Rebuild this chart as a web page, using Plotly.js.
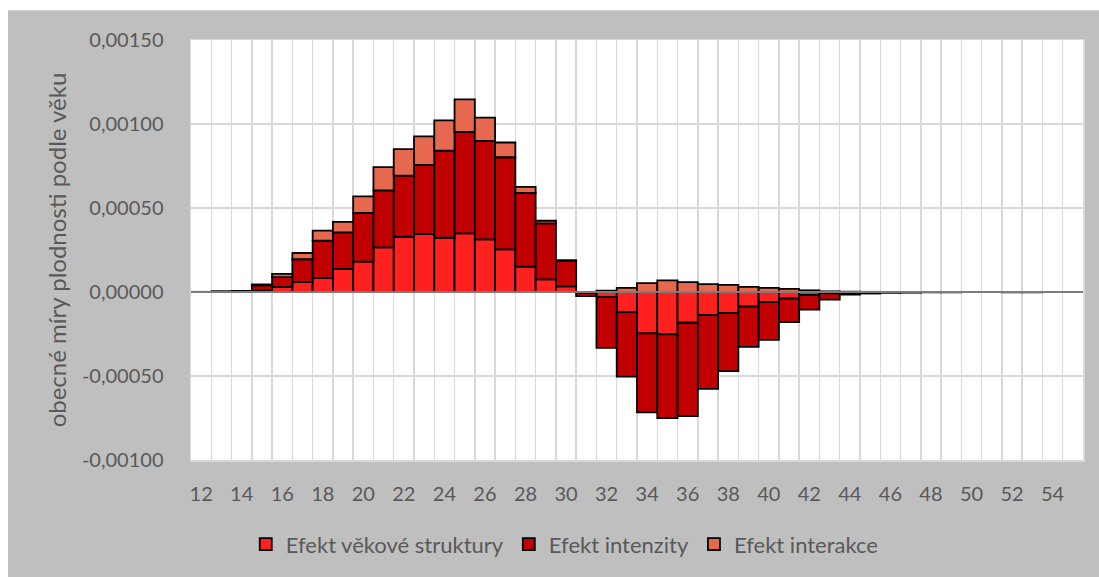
<!DOCTYPE html>
<html>
<head>
<meta charset="utf-8">
<script src="https://cdn.plot.ly/plotly-3.0.1.min.js"></script>
<style>html,body{margin:0;padding:0;background:#fff;}#chart{width:1099px;height:577px;}</style>
</head>
<body>
<div id="chart"></div>
<script>
// Ages (categories)
const ages = [12,13,14,15,16,17,18,19,20,21,22,23,24,25,26,27,28,29,30,31,32,33,34,35,36,37,38,39,40,41,42,43,44,45,46,47,48,49,50,51,52,53,54,55];

// Efekt věkové struktury
const efektStruktury = [0,0.000001,0.000002,0.000008,0.00003,0.00006,0.000083,0.000138,0.000181,0.000266,0.000329,0.000345,0.000323,0.000349,0.000313,0.000254,0.000151,0.000075,0.000034,-0.000005,-0.00003,-0.00012,-0.000246,-0.000252,-0.000183,-0.000138,-0.000124,-0.000087,-0.00006,-0.00004,-0.000018,-0.000008,-0.000003,-0.000002,-0.000001,-0.000001,0,0,0,0,0,0,0,0];

// Efekt intenzity
const efektIntenzity = [0.000001,0.000002,0.000004,0.000032,0.000059,0.000135,0.000223,0.000217,0.00029,0.000339,0.000364,0.000412,0.000518,0.000604,0.000587,0.000548,0.000439,0.000333,0.000153,-0.00002,-0.000303,-0.000384,-0.000471,-0.000499,-0.000556,-0.000439,-0.000347,-0.00024,-0.000225,-0.000139,-0.000087,-0.000037,-0.000012,-0.000007,-0.000004,-0.000003,-0.000002,-0.000002,0,0,-0.000002,-0.000002,0,0];

// Efekt interakce
const efektInterakce = [0,0,0,0.000005,0.000019,0.000037,0.000059,0.000063,0.000098,0.000138,0.000158,0.000169,0.000181,0.000194,0.000138,0.000088,0.000036,0.000016,0.000002,0,0.000008,0.000024,0.000053,0.000069,0.000059,0.000047,0.000043,0.00003,0.000025,0.000019,0.00001,0.000004,0.000002,0.000001,0,0,0,0,0,0,0,0,0,0];

// Y tick labels
const yTickVals = [-0.001,-0.0005,0,0.0005,0.001,0.0015];
const yTickText = ["-0,00100","-0,00050","0,00000","0,00050","0,00100","0,00150"];

const seriesNames = ["Efekt věkové struktury","Efekt intenzity","Efekt interakce"];
const seriesColors = ["#ff2020","#c00000","#e5684f"];
const seriesValues = [efektStruktury, efektIntenzity, efektInterakce];

const FONT = "Lato, 'Open Sans', sans-serif";
const TXT = "#595959";

const traces = seriesValues.map((vals, i) => ({
  type: "bar",
  name: seriesNames[i],
  x: ages,
  y: vals,
  marker: {color: seriesColors[i], line: {color: "#000000", width: 1.8}},
  hoverinfo: "x+y+name"
}));

const layout = {
  width: 1099,
  height: 577,
  margin: {l: 191, r: 16, t: 40, b: 114},
  paper_bgcolor: "#bfbfbf",
  plot_bgcolor: "#ffffff",
  barmode: "relative",
  bargap: 0,
  font: {family: FONT, size: 20, color: TXT},
  showlegend: true,
  legend: {
    orientation: "h",
    x: 0.419, xanchor: "center",
    y: -0.201, yanchor: "middle",
    font: {family: FONT, size: 22, color: TXT},
    itemwidth: 30,
    traceorder: "normal",
    bgcolor: "rgba(0,0,0,0)"
  },
  xaxis: {
    type: "linear",
    range: [11.5, 55.5],
    tick0: 12,
    dtick: 2,
    showgrid: false,
    zeroline: false,
    ticks: "",
    ticklabelstandoff: 15,
    tickfont: {family: FONT, size: 20, color: TXT},
    showline: true, linecolor: "#d9d9d9", linewidth: 1.5, mirror: true,
    minor: {tick0: 11.5, dtick: 1, showgrid: true, gridcolor: "#d9d9d9", gridwidth: 1.5, ticks: ""},
    fixedrange: true
  },
  yaxis: {
    range: [-0.001, 0.0015],
    tickvals: yTickVals,
    ticktext: yTickText,
    showgrid: true,
    gridcolor: "#d9d9d9",
    gridwidth: 1.5,
    zeroline: false,
    ticks: "",
    ticklabelstandoff: 22,
    tickfont: {family: FONT, size: 20, color: TXT},
    showline: true, linecolor: "#d9d9d9", linewidth: 1.5, mirror: true,
    title: {text: "obecné míry plodnosti podle věku", font: {family: FONT, size: 24, color: TXT}, standoff: 8},
    fixedrange: true
  },
  shapes: [
    {type: "rect", xref: "paper", yref: "paper", x0: -0.3, x1: 1.1, y0: 1.0709, y1: 1.2, fillcolor: "#ffffff", line: {width: 0}, layer: "below"},
    {type: "rect", xref: "paper", yref: "paper", x0: -0.3, x1: -0.2052, y0: -0.3, y1: 1.2, fillcolor: "#ffffff", line: {width: 0}, layer: "below"},
    {type: "line", xref: "paper", yref: "y", x0: 0, x1: 1, y0: 0, y1: 0, line: {color: "#a6a6a6", width: 1.5}, layer: "above"}
  ]
};

Plotly.newPlot("chart", traces, layout, {displayModeBar: false, staticPlot: true});
</script>
</body>
</html>
